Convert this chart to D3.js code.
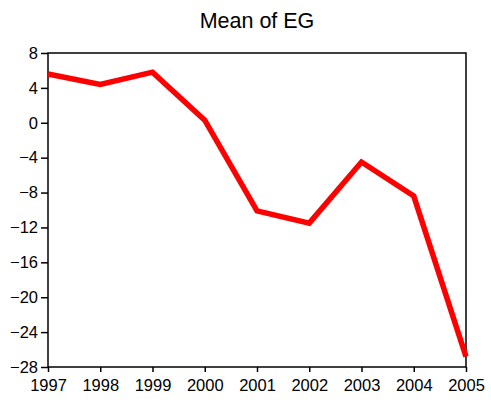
<!DOCTYPE html>
<html>
<head>
<meta charset="utf-8">
<script src="https://cdn.jsdelivr.net/npm/d3@7"></script>
<style>
  body { margin: 0; background: #fff; }
  svg { display: block; font-family: "Liberation Sans", Arial, sans-serif; }
</style>
</head>
<body>
<div id="viz"></div>
<script>
const years = [1997, 1998, 1999, 2000, 2001, 2002, 2003, 2004, 2005];
const meanEG = [5.6, 4.4, 5.8, 0.3, -10.1, -11.5, -4.5, -8.4, -26.8];
const yTicks = [8, 4, 0, -4, -8, -12, -16, -20, -24, -28];

const width = 491, height = 403;
const margin = {top: 53, right: 25, bottom: 36, left: 48};

const svg = d3.select("#viz")
  .append("svg")
    .attr("width", width)
    .attr("height", height);

const x = d3.scaleLinear()
  .domain([1997, 2005])
  .range([margin.left, width - margin.right]);

const y = d3.scaleLinear()
  .domain([-28, 8])
  .range([height - margin.bottom, margin.top]);

// title
svg.append("text")
  .attr("x", (margin.left + width - margin.right) / 2)
  .attr("y", 28)
  .attr("text-anchor", "middle")
  .style("font-size", "21.5px")
  .text("Mean of EG");

// y axis
const yAxis = svg.append("g")
  .attr("transform", `translate(${margin.left},0)`)
  .call(d3.axisLeft(y).tickValues(yTicks).tickSize(7).tickPadding(3).tickFormat(d3.format("d")));

// x axis
const xAxis = svg.append("g")
  .attr("transform", `translate(0,${height - margin.bottom})`)
  .call(d3.axisBottom(x).tickValues(years).tickSize(5).tickPadding(7).tickFormat(d3.format("d")));

[yAxis, xAxis].forEach(g => {
  g.select(".domain").remove();
  g.selectAll("line").attr("stroke", "#000").attr("stroke-width", 1.5);
  g.selectAll("text")
    .attr("fill", "#000")
    .style("font-size", "16.5px")
    .style("font-family", "'Liberation Sans', Arial, sans-serif");
});

// frame
svg.append("rect")
  .attr("x", margin.left)
  .attr("y", margin.top)
  .attr("width", width - margin.left - margin.right)
  .attr("height", height - margin.top - margin.bottom)
  .attr("fill", "none")
  .attr("stroke", "#000")
  .attr("stroke-width", 1.5);

const line = d3.line()
  .x((d, i) => x(years[i]))
  .y(d => y(d));

svg.append("path")
  .datum(meanEG)
  .attr("d", line)
  .attr("fill", "none")
  .attr("stroke", "#ff0000")
  .attr("stroke-width", 5.5)
  .attr("stroke-linejoin", "miter");
</script>
</body>
</html>
